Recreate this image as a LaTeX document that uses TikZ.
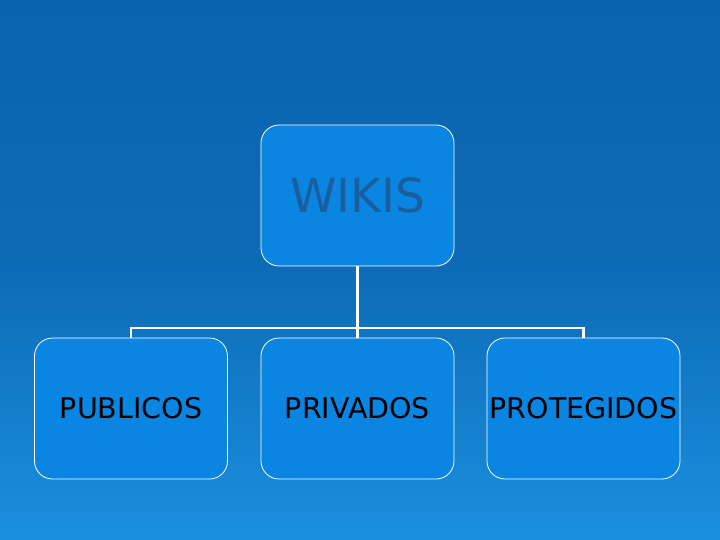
\documentclass[tikz,border=0pt]{standalone}
\usepackage{fontspec}
\setmainfont{DejaVu Sans}
\begin{document}
\begin{tikzpicture}[x=1pt,y=-1pt,
  box/.style={draw=white,line width=0.8pt,fill=boxblue,rounded corners=18pt,minimum width=193pt,minimum height=141pt,inner sep=0pt},
  link/.style={draw=white,line width=2.5pt}]
\definecolor{boxblue}{HTML}{0A86E2}
\definecolor{bgtop}{HTML}{0A63AD}
\definecolor{bgbot}{HTML}{1A8FDE}
\definecolor{titleblue}{HTML}{1A5E9E}
\shade[top color=bgtop,bottom color=bgbot,middle color=bgtop!80!bgbot] (0,0) rectangle (720,540);
\useasboundingbox (0,0) rectangle (720,540);
\node[box,font=\fontsize{47}{47}\selectfont,text=titleblue] (w) at (357.5,195.5) {WIKIS};
\node[box,font=\fontsize{28.5}{28.5}\selectfont] (a) at (131,408.5) {PUBLICOS};
\node[box,font=\fontsize{28.5}{28.5}\selectfont] (b) at (357.5,408.5) {PRIVADOS};
\node[box,font=\fontsize{28.5}{28.5}\selectfont] (c) at (583.5,408.5) {PROTEGIDOS};
\coordinate (j) at (357.5,328);
\draw[link] (w.south) -- (j);
\draw[link] (a.north) |- (j) -| (c.north);
\draw[link] (j) -- (b.north);
\end{tikzpicture}
\end{document}
